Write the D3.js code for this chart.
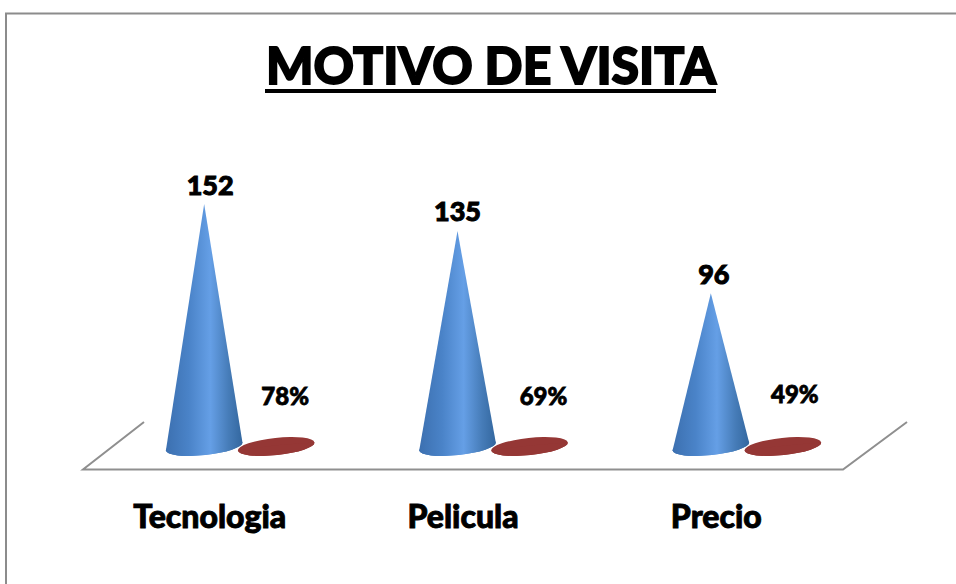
<!DOCTYPE html>
<html>
<head>
<meta charset="utf-8">
<script src="https://cdn.jsdelivr.net/npm/d3@7"></script>
<style>
    html, body { margin: 0; padding: 0; background: #fff; overflow: hidden; }
    svg { display: block; }
    text { font-family: Lato, "Open Sans", sans-serif; font-weight: 900; fill: #000; stroke: #000; }
    .tick text { font-family: Lato, "Open Sans", sans-serif; font-weight: 900; }
</style>
</head>
<body>
<svg width="956" height="584"></svg>
<script>
var categories = ["Tecnologia", "Pelicula", "Precio"];
var seriesNames = ["cantidad", "porcentaje"];
var cantidad = [152, 135, 96];
var porcentaje = [0.78, 0.69, 0.49];
var porcentajeLabels = ["78%", "69%", "49%"];

var svg = d3.select("svg"),
    width = +svg.attr("width"),
    height = +svg.attr("height");

var floorLeft = 83, floorRight = 843, floorY = 469.5;
var baseY = 446.5, topY = 204;
var coneRx = 38.5, coneRy = 8.6, tilt = -6;

var x0 = d3.scaleBand().domain(categories).range([floorLeft, floorRight]);
var x1 = d3.scalePoint().domain(seriesNames).range([-5.5, 66.5]);
var y = d3.scaleLinear().domain([0, 152]).range([baseY, topY]);

var defs = svg.append("defs");
var coneGrad = defs.append("linearGradient").attr("id", "coneFill");
[[0, "#3c70b0"], [0.3, "#4a83c8"], [0.58, "#659fe6"], [0.82, "#467cb8"], [1, "#33679f"]].forEach(function(s) {
    coneGrad.append("stop").attr("offset", s[0]).attr("stop-color", s[1]);
});

// frame, only top and left show in the picture
svg.append("path")
    .attr("d", "M6,584V13.5H956")
    .attr("fill", "none")
    .attr("stroke", "#8c8c8c")
    .attr("stroke-width", 2);

// floor of the 3d plot
svg.append("path")
    .attr("d", d3.line()([[144, 422], [floorLeft, floorY], [floorRight, floorY], [907, 422]]))
    .attr("fill", "none")
    .attr("stroke", "#8f8f8f")
    .attr("stroke-width", 2);

function conePath(cx, v) {
    var rad = tilt * Math.PI / 180;
    var dx = coneRx * Math.cos(rad), dy = coneRx * Math.sin(rad);
    return "M" + cx + "," + y(v) +
        "L" + (cx - dx) + "," + (baseY - dy) +
        "A" + coneRx + "," + coneRy + " " + tilt + " 0 0 " + (cx + dx) + "," + (baseY + dy) + "Z";
}

function drawSeries(name, values, fill) {
    var g = svg.append("g").attr("class", "series-" + name);
    g.selectAll("ellipse")
        .data(values)
        .enter().append("ellipse")
        .attr("rx", coneRx)
        .attr("ry", coneRy)
        .attr("fill", fill)
        .attr("transform", function(d, i) {
            return "translate(" + (x0(categories[i]) + x0.bandwidth() / 2 + x1(name)) + "," + baseY + ") rotate(" + tilt + ")";
        });
    g.selectAll("path")
        .data(values)
        .enter().append("path")
        .attr("fill", fill)
        .attr("d", function(d, i) {
            return conePath(x0(categories[i]) + x0.bandwidth() / 2 + x1(name), d);
        });
}

drawSeries("porcentaje", porcentaje, "#953735");
drawSeries("cantidad", cantidad, "url(#coneFill)");

// labels were moved by hand in the original, so each one has its own nudge
var cantidadNudge = [[6, -9], [0, -10], [3, -9]];
var porcentajeNudge = [[9, -40], [14, -40], [12, -43]];

svg.selectAll(".val")
    .data(cantidad)
    .enter().append("text")
    .attr("class", "val")
    .attr("text-anchor", "middle")
    .attr("font-size", 27)
    .attr("stroke-width", 1)
    .attr("x", function(d, i) { return x0(categories[i]) + x0.bandwidth() / 2 + x1("cantidad") + cantidadNudge[i][0]; })
    .attr("y", function(d, i) { return y(d) + cantidadNudge[i][1]; })
    .text(function(d) { return d; });

svg.selectAll(".pct")
    .data(porcentaje)
    .enter().append("text")
    .attr("class", "pct")
    .attr("text-anchor", "middle")
    .attr("font-size", 24)
    .attr("stroke-width", 0.8)
    .attr("x", function(d, i) { return x0(categories[i]) + x0.bandwidth() / 2 + x1("porcentaje") + porcentajeNudge[i][0]; })
    .attr("y", function(d, i) { return y(d) + porcentajeNudge[i][1]; })
    .text(function(d, i) { return porcentajeLabels[i]; });

// category axis, no line or ticks
var axis = svg.append("g")
    .attr("transform", "translate(0," + (floorY + 33) + ")")
    .call(d3.axisBottom(x0).tickSize(0).tickPadding(0));
axis.select(".domain").remove();
axis.selectAll("text").attr("font-size", 32).attr("fill", "#000").attr("stroke", "#000").attr("stroke-width", 0.9).attr("dy", "0.8em");

// title
svg.append("text")
    .attr("x", 491)
    .attr("y", 83.5)
    .attr("text-anchor", "middle")
    .attr("font-size", 52)
    .attr("stroke-width", 1.8)
    .attr("textLength", 450)
    .attr("lengthAdjust", "spacingAndGlyphs")
    .text("MOTIVO DE VISITA");
svg.append("line")
    .attr("x1", 265).attr("x2", 716)
    .attr("y1", 91).attr("y2", 91)
    .attr("stroke", "#000")
    .attr("stroke-width", 4);
</script>
</body>
</html>
